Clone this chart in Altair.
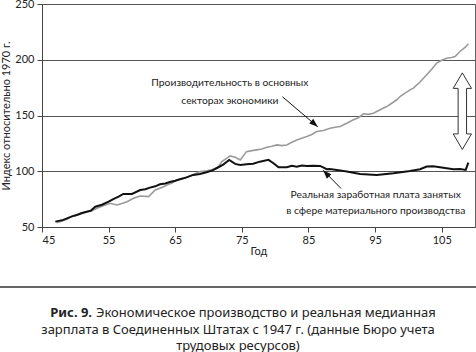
import altair as alt
import pandas as pd

# ---- data ----
wage_year = [47.0, 47.5, 48.0, 48.75, 49.5, 50.2, 51.0, 51.7, 52.3, 53.0, 54.0, 55.0, 55.7, 56.5, 57.2,
             58.5, 59.75, 60.5, 61.2, 62.0, 62.7, 63.5, 64.2, 65.0, 65.7, 66.7, 67.7, 68.7, 69.7, 70.5,
             71.2, 72.2, 73.1, 74.0, 74.75, 75.7, 76.7, 77.7, 79.0, 79.75, 80.5, 81.75, 82.5, 83.25, 84.0,
             84.75, 85.7, 86.75, 87.75, 88.2, 89.5, 90.75, 92.75, 95.25, 97.75, 100.25, 101.75, 102.75,
             103.7, 104.75, 105.75, 106.75, 107.75, 108.6, 109.0]
wage = [54.8, 55.5, 56.0, 57.8, 59.5, 60.8, 62.5, 63.7, 64.5, 68.2, 70.0, 72.7, 75.0, 77.2, 79.6,
        79.6, 83.2, 83.8, 85.3, 86.5, 88.3, 89.0, 90.4, 91.5, 92.8, 94.5, 96.7, 97.5, 99.1, 100.5,
        102.7, 106.0, 110.2, 106.6, 105.7, 106.3, 106.8, 108.6, 110.2, 107.2, 103.6, 103.6, 105.0, 104.0, 105.2,
        104.8, 105.0, 104.8, 101.8, 102.1, 101.0, 99.7, 97.6, 96.7, 98.2, 100.3, 101.8, 104.2,
        104.5, 103.6, 102.7, 101.8, 102.1, 101.2, 107.7]

prod_year = [47.2, 48.0, 48.75, 49.5, 50.5, 51.7, 52.5, 53.25, 54.2, 55.25, 56.25, 57.0, 57.75, 58.75,
             59.75, 61.0, 62.0, 63.0, 63.75, 64.5, 65.25, 66.0, 66.75, 67.75, 68.75, 69.75, 70.75, 71.5,
             72.0, 73.25, 74.0, 74.75, 75.7, 76.5, 77.25, 78.0, 78.75, 79.5, 80.25, 81.0, 81.75, 82.5,
             83.25, 84.0, 84.75, 85.5, 86.25, 87.25, 88.25, 89.0, 89.75, 90.75, 91.75, 92.5, 93.25, 94.0,
             94.75, 95.75, 96.75, 97.5, 98.25, 98.75, 99.5, 100.25, 100.75, 101.75, 102.75, 103.5, 104.25,
             105.0, 105.75, 106.5, 107.0, 107.75, 108.5, 109.0]
prod = [53.9, 55.5, 56.9, 59.5, 61.0, 63.7, 64.5, 66.8, 69.0, 71.3, 69.8, 71.0, 72.7, 75.8,
        77.8, 77.2, 83.2, 85.5, 87.7, 89.5, 92.2, 93.0, 94.6, 97.0, 99.7, 100.5, 101.8, 104.0,
        108.6, 113.8, 112.5, 110.2, 117.6, 118.5, 119.2, 120.0, 121.6, 122.5, 123.6, 123.0, 123.6, 126.0,
        128.1, 129.5, 131.1, 133.0, 135.6, 136.5, 138.6, 139.5, 140.1, 143.0, 146.1, 148.0, 151.5, 151.0,
        152.1, 155.1, 158.0, 161.0, 164.1, 167.0, 170.0, 173.0, 174.5, 180.0, 186.5, 191.5, 197.0,
        199.5, 201.4, 202.0, 202.8, 207.4, 211.0, 214.3]

x_ticks = [45, 55, 65, 75, 85, 95, 105]
y_ticks = [50, 100, 150, 200, 250]
x_title = "Год"
y_title = "Индекс относительно 1970 г."

prod_label = ["Производительность в основных", "секторах экономики"]
prod_label_x = [73.2, 73.2]
prod_label_y = [179.0, 163.2]
wage_label = ["Реальная заработная плата занятых", "в сфере материального производства"]
wage_label_x = [95.1, 95.1]
wage_label_y = [78.4, 64.4]

# pointer arrows: start (x, y) -> tip (x2, y2), head angle
ptr_x = [81.1, 89.9]
ptr_y = [166.8, 84.5]
ptr_x2 = [86.4, 87.2]
ptr_y2 = [139.8, 100.9]
ptr_angle = [130.6, 316.4]

# double arrow (gap between the series)
gap_x = [108.1]
gap_y = [153.9]

caption_bold = "Рис. 9."
caption_1 = "Экономическое производство и реальная медианная"
caption_2 = "зарплата в Соединенных Штатах с 1947 г. (данные Бюро учета"
caption_3 = "трудовых ресурсов)"

W, H = 433, 223
xs = alt.Scale(domain=[45, 110], nice=False, zero=False)
ys = alt.Scale(domain=[50, 250], nice=False, zero=False)
FONT = "Lato"

X_AX = alt.Axis(values=x_ticks, title=x_title, grid=False, titleY=24, titleBaseline="middle")
Y_AX = alt.Axis(values=y_ticks, title=y_title, grid=True,
                titleX=-36, titleY=H / 2, titleBaseline="middle", titleAlign="center")


def X(field):
    return alt.X(field, scale=xs, axis=X_AX)


def Y(field):
    return alt.Y(field, scale=ys, axis=Y_AX)


df_w = pd.DataFrame({"year": wage_year, "value": wage})
df_p = pd.DataFrame({"year": prod_year, "value": prod})

prod_line = alt.Chart(df_p).mark_line(color="#9a9a9a", strokeWidth=1.6).encode(
    x=X("year:Q"), y=Y("value:Q"))
wage_line = alt.Chart(df_w).mark_line(color="#111111", strokeWidth=2).encode(
    x=X("year:Q"), y=Y("value:Q"))

df_pl = pd.DataFrame({"t": prod_label, "year": prod_label_x, "value": prod_label_y})
df_wl = pd.DataFrame({"t": wage_label, "year": wage_label_x, "value": wage_label_y})
labels = alt.Chart(pd.concat([df_pl, df_wl])).mark_text(
    font=FONT, fontSize=10.3, color="#222222", align="center", baseline="middle"
).encode(x=X("year:Q"), y=Y("value:Q"), text="t:N")

df_ptr = pd.DataFrame({"year": ptr_x, "value": ptr_y, "x2": ptr_x2, "y2": ptr_y2, "a": ptr_angle})
ptr_lines = alt.Chart(df_ptr).mark_rule(color="#111111", strokeWidth=1).encode(
    x=X("year:Q"), y=Y("value:Q"), x2="x2:Q", y2="y2:Q")
df_head = pd.DataFrame({"year": ptr_x2, "value": ptr_y2, "a": ptr_angle})
ptr_heads = alt.Chart(df_head).mark_point(
    shape="M0,0 L0.36,1 L-0.36,1 Z", filled=True, color="#111111", size=300, opacity=1
).encode(x=X("year:Q"), y=Y("value:Q"), angle=alt.Angle("a:Q", scale=None))

dbl_path = ("M0,-1 L0.239,-0.595 L0.11,-0.595 L0.11,0.595 L0.239,0.595 L0,1 "
            "L-0.239,0.595 L-0.11,0.595 L-0.11,-0.595 L-0.239,-0.595 Z")
gap = alt.Chart(pd.DataFrame({"year": gap_x, "value": gap_y})).mark_point(
    shape=dbl_path, filled=True, fill="white", stroke="#333333", strokeWidth=1, size=5860, opacity=1
).encode(x=X("year:Q"), y=Y("value:Q"))

one = pd.DataFrame({"a": [0]})
sep = alt.Chart(one).mark_rule(color="#333333", strokeWidth=1.5).encode(
    x=alt.value(-42), x2=alt.value(434), y=alt.value(283))
CAPF = "Noto Sans"
CAPS = 13
cap_b = alt.Chart(pd.DataFrame({"t": [caption_bold]})).mark_text(
    font=CAPF, fontSize=CAPS, fontWeight="bold", color="#222222", align="right", baseline="middle"
).encode(text="t:N", x=alt.value(50), y=alt.value(309))
cap_1 = alt.Chart(pd.DataFrame({"t": [caption_1]})).mark_text(
    font=CAPF, fontSize=CAPS, color="#222222", align="left", baseline="middle"
).encode(text="t:N", x=alt.value(54), y=alt.value(309))
cap_2 = alt.Chart(pd.DataFrame({"t": [caption_2]})).mark_text(
    font=CAPF, fontSize=CAPS, color="#222222", align="center", baseline="middle"
).encode(text="t:N", x=alt.value(196), y=alt.value(326))
cap_3 = alt.Chart(pd.DataFrame({"t": [caption_3]})).mark_text(
    font=CAPF, fontSize=CAPS, color="#222222", align="center", baseline="middle"
).encode(text="t:N", x=alt.value(196), y=alt.value(342))

chart = alt.layer(
    prod_line, wage_line, labels, ptr_lines, ptr_heads, gap, sep, cap_b, cap_1, cap_2, cap_3
).properties(
    width=W, height=H,
    autosize=alt.AutoSizeParams(type="none"),
    padding={"left": 42, "top": 4, "right": 1, "bottom": 125},
    background="white",
).configure_view(
    stroke="#666666", strokeWidth=1
).configure_axis(
    domainColor="#444444", tickColor="#444444", gridColor="#555555", gridWidth=1,
    labelColor="#222222", labelFont=FONT, labelFontSize=11, tickSize=5,
    titleFont=FONT, titleFontSize=11, titleFontWeight="normal", titleColor="#222222",
).configure_axisX(labelPadding=2).configure_axisY(labelPadding=3)

chart.save("out.html", embed_options={"renderer": "svg", "actions": False})
